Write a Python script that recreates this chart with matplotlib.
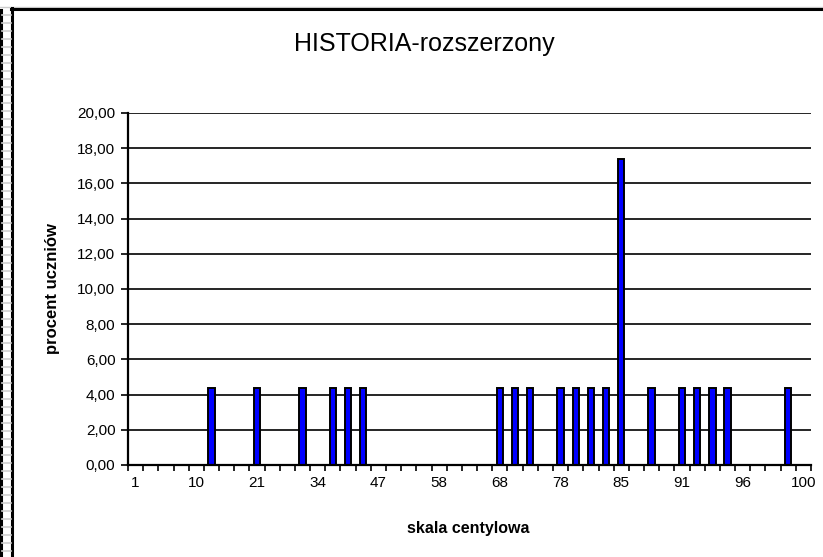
import numpy as np
import matplotlib
matplotlib.use('Agg')
import matplotlib.pyplot as plt
from matplotlib.lines import Line2D

plt.rcParams['font.family'] = ['Liberation Sans', 'DejaVu Sans']

# 45 categories on the centile axis, only every 4th one is labelled
x_labels = ['1', '10', '21', '34', '47', '58', '68', '78', '85', '91', '96', '100']
label_every = 4
n_cat = 45

# percent of students in each category (23 students -> 4.35 % each)
procent = [0, 0, 0, 0, 0, 4.35, 0, 0, 4.35, 0,
           0, 4.35, 0, 4.35, 4.35, 4.35, 0, 0, 0, 0,
           0, 0, 0, 0, 4.35, 4.35, 4.35, 0, 4.35, 4.35,
           4.35, 4.35, 17.39, 0, 4.35, 0, 4.35, 4.35, 4.35, 4.35,
           0, 0, 0, 4.35, 0]

y_ticks = [0, 2, 4, 6, 8, 10, 12, 14, 16, 18, 20]

W, H = 823, 557
fig = plt.figure(figsize=(W / 100, H / 100), dpi=100)
fig.patch.set_facecolor('white')

ax = fig.add_axes([128 / W, 1 - 465 / H, 683 / W, 352 / H])

xpos = np.arange(n_cat)
ax.bar(xpos, procent, width=0.42, color='#0000FF', edgecolor='black', linewidth=1.4, zorder=3)

ax.set_xlim(-0.5, n_cat - 0.5)
ax.set_ylim(0, 20)

# gridlines
ax.set_yticks(y_ticks)
ax.set_yticklabels([('%.2f' % v).replace('.', ',') for v in y_ticks])
ax.yaxis.grid(True, color='black', linewidth=1.2)
ax.set_axisbelow(True)

ax.set_xticks(xpos[::label_every])
ax.set_xticklabels(x_labels)
ax.set_xticks(np.arange(n_cat + 1) - 0.5, minor=True)

ax.tick_params(axis='x', which='major', length=0, pad=8, labelsize=11)
ax.tick_params(axis='x', which='minor', length=4, width=1.2, direction='out')
ax.tick_params(axis='y', length=5, width=1.2, direction='out', pad=4, labelsize=11)

for s in ['top', 'right']:
    ax.spines[s].set_visible(False)
for s in ['left', 'bottom']:
    ax.spines[s].set_linewidth(1.6)
    ax.spines[s].set_zorder(4)

ax.set_ylabel('procent uczniów', fontsize=12, fontweight='bold')
ax.yaxis.set_label_coords((60 - 128) / 683, 0.5)
ax.set_xlabel('skala centylowa', fontsize=11.5, fontweight='bold')
ax.xaxis.set_label_coords(0.498, (465 - 521) / 352)

fig.text(424 / W, 1 - 44 / H, 'HISTORIA-rozszerzony', fontsize=18, ha='center', va='center')

# chart frame + spreadsheet edge on the left
def px_line(x0, y0, x1, y1, **kw):
    fig.add_artist(Line2D([x0 / W, x1 / W], [1 - y0 / H, 1 - y1 / H], transform=fig.transFigure, **kw))

px_line(0, 6.5, W, 6.5, color='#cccccc', linewidth=1.0)
px_line(11, 9, W, 9, color='black', linewidth=2.2)
px_line(11.5, 8, 11.5, H, color='black', linewidth=2.2)
px_line(1, 10, 1, H, color='black', linewidth=2.2)
for yy in np.arange(15, H, 8):
    px_line(2, yy, 10.5, yy, color='#cfcfcf', linewidth=1.2)

fig.savefig('out.png', dpi=100)
